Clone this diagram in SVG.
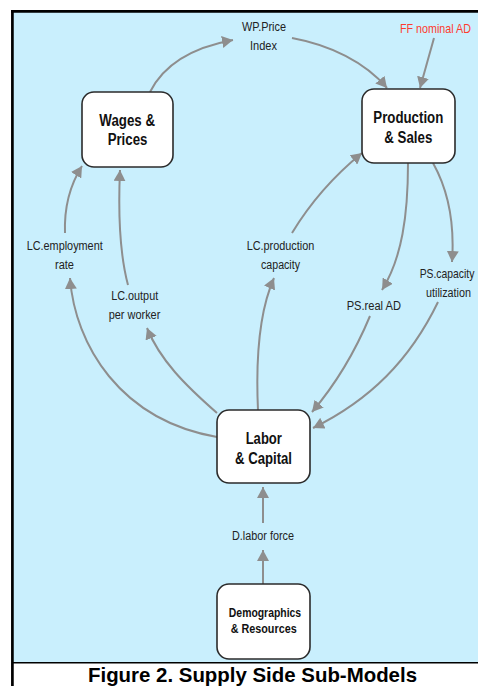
<svg xmlns="http://www.w3.org/2000/svg" width="478" height="686" viewBox="0 0 478 686">
  <defs>
    <marker id="arrow" markerUnits="userSpaceOnUse" markerWidth="12" markerHeight="12" refX="11" refY="6" orient="auto">
      <path d="M0,0 L11,6 L0,12 Z" fill="#8e8e8e"/>
    </marker>
    <style>
      .node rect { fill: #ffffff; stroke: #2b2b2b; stroke-width: 1.6; }
      .node text { font-family: "Liberation Sans", Arial, sans-serif; font-weight: bold; fill: #111; text-anchor: middle; }
      .lbl { font-family: "Liberation Sans", Arial, sans-serif; font-size: 12.5px; fill: #222; text-anchor: middle; }
      .red { fill: #ff3b2f; }
      #connectors path { fill: none; stroke: #8e8e8e; stroke-width: 2; marker-end: url(#arrow); }
      .caption { font-family: "Liberation Sans", Arial, sans-serif; font-weight: bold; font-size: 21px; fill: #000; }
    </style>
  </defs>

  <!-- page background and frame -->
  <rect x="0" y="0" width="478" height="686" fill="#ffffff"/>
  <rect x="12.4" y="11.4" width="465.6" height="651" fill="#c9effd"/>
  <line x1="11" y1="11.4" x2="478" y2="11.4" stroke="#000" stroke-width="2.7"/>
  <line x1="12.4" y1="10" x2="12.4" y2="686" stroke="#000" stroke-width="2.7"/>
  <line x1="12.4" y1="662.8" x2="478" y2="662.8" stroke="#000" stroke-width="1.4"/>

  <!-- connectors -->
  <g id="connectors">
    <path d="M150,92 C165,62 195,47 233,40"/>
    <path d="M292,38 C330,45 365,62 387,88"/>
    <path d="M434,38 L420,88"/>
    <path d="M65,233 C64,205 70,185 82,166"/>
    <path d="M128,285 C120,255 118,215 120,170"/>
    <path d="M217,437 C120,420 75,345 70,278"/>
    <path d="M217,413 C185,385 160,360 147,328"/>
    <path d="M258,410 C255,345 262,305 274,278"/>
    <path d="M292,233 C312,200 335,175 362,153"/>
    <path d="M408,163 C408,215 402,258 382,290"/>
    <path d="M433,163 C447,188 455,220 452,262"/>
    <path d="M370,316 C355,352 335,385 312,412"/>
    <path d="M438,302 C410,360 370,400 313,428"/>
    <path d="M263,523 L263,487"/>
    <path d="M263,584 L263,550"/>
  </g>

  <!-- variable labels -->
  <g id="labels">
    <text class="lbl" x="264" y="31" textLength="44" lengthAdjust="spacingAndGlyphs">WP.Price</text>
    <text class="lbl" x="263.5" y="50" textLength="27" lengthAdjust="spacingAndGlyphs">Index</text>
    <text class="lbl red" transform="translate(435.5,33) scale(0.86,1)">FF nominal AD</text>
    <text class="lbl" x="64.7" y="250" textLength="76" lengthAdjust="spacingAndGlyphs">LC.employment</text>
    <text class="lbl" x="64.5" y="269" textLength="19" lengthAdjust="spacingAndGlyphs">rate</text>
    <text class="lbl" x="134.7" y="299.5" textLength="47" lengthAdjust="spacingAndGlyphs">LC.output</text>
    <text class="lbl" x="134.5" y="319" textLength="51.7" lengthAdjust="spacingAndGlyphs">per worker</text>
    <text class="lbl" x="280.5" y="250" textLength="67.7" lengthAdjust="spacingAndGlyphs">LC.production</text>
    <text class="lbl" x="280.5" y="269" textLength="39" lengthAdjust="spacingAndGlyphs">capacity</text>
    <text class="lbl" x="373.8" y="310" textLength="54.3" lengthAdjust="spacingAndGlyphs">PS.real AD</text>
    <text class="lbl" transform="translate(447,277.5) scale(0.83,1)">PS.capacity</text>
    <text class="lbl" x="448.5" y="297.3" textLength="45" lengthAdjust="spacingAndGlyphs">utilization</text>
    <text class="lbl" x="263" y="540" textLength="62" lengthAdjust="spacingAndGlyphs">D.labor force</text>
  </g>

  <!-- sub-model nodes -->
  <g id="wages-prices" class="node">
    <rect x="82" y="92" width="91" height="75" rx="12"/>
    <text x="127.2" y="125.7" font-size="16" textLength="55.7" lengthAdjust="spacingAndGlyphs">Wages &amp;</text>
    <text x="127.5" y="145" font-size="16" textLength="39.7" lengthAdjust="spacingAndGlyphs">Prices</text>
  </g>
  <g id="production-sales" class="node">
    <rect x="362" y="89" width="93" height="74" rx="12"/>
    <text x="408.3" y="122.7" font-size="16" textLength="70" lengthAdjust="spacingAndGlyphs">Production</text>
    <text x="408.3" y="142.7" font-size="16" textLength="48" lengthAdjust="spacingAndGlyphs">&amp; Sales</text>
  </g>
  <g id="labor-capital" class="node">
    <rect x="217" y="410" width="93" height="73" rx="12"/>
    <text x="263.8" y="444" font-size="16" textLength="36.3" lengthAdjust="spacingAndGlyphs">Labor</text>
    <text x="263.5" y="464" font-size="16" textLength="57" lengthAdjust="spacingAndGlyphs">&amp; Capital</text>
  </g>
  <g id="demographics-resources" class="node">
    <rect x="217" y="584" width="93" height="75" rx="12"/>
    <text x="265" y="616.7" font-size="12.5" textLength="72.3" lengthAdjust="spacingAndGlyphs">Demographics</text>
    <text x="263.7" y="633.3" font-size="12.5" textLength="66" lengthAdjust="spacingAndGlyphs">&amp; Resources</text>
  </g>

  <!-- caption -->
  <text class="caption" x="88" y="681.5" textLength="329" lengthAdjust="spacingAndGlyphs">Figure 2. Supply Side Sub-Models</text>
</svg>
